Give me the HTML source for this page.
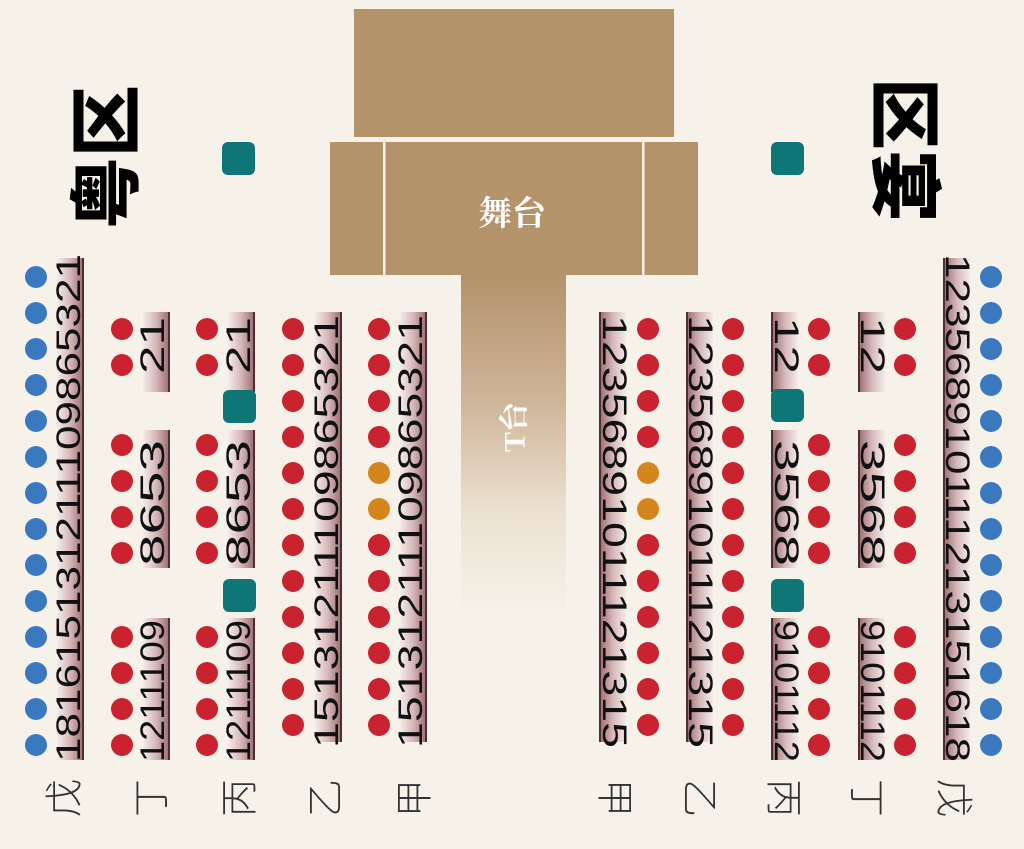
<!DOCTYPE html>
<html><head><meta charset="utf-8"><style>
html,body{margin:0;padding:0;background:#f6f2ea}
svg{display:block}
text{font-family:"Liberation Sans","Noto Sans CJK SC",sans-serif}
</style></head><body>
<svg xmlns="http://www.w3.org/2000/svg" width="1024" height="849" viewBox="0 0 1024 849">
<defs>
<linearGradient id="sl" x1="0" y1="0" x2="1" y2="0">
<stop offset="0" stop-color="#f4ecea"/><stop offset="0.5" stop-color="#d6b8b9"/><stop offset="1" stop-color="#9c6e72"/>
</linearGradient>
<linearGradient id="sr" x1="1" y1="0" x2="0" y2="0">
<stop offset="0" stop-color="#f4ecea"/><stop offset="0.5" stop-color="#d6b8b9"/><stop offset="1" stop-color="#9c6e72"/>
</linearGradient>
<linearGradient id="rw" x1="0" y1="0" x2="0" y2="1">
<stop offset="0" stop-color="#b4926a"/><stop offset="0.35" stop-color="#cdb397"/><stop offset="0.7" stop-color="#ece2d2"/><stop offset="1" stop-color="#f6f2ea"/>
</linearGradient>
</defs>
<rect width="1024" height="849" fill="#f6f2ea"/>
<!-- stage -->
<rect x="354" y="9" width="320" height="128" fill="#b4926a"/>
<rect x="330" y="142" width="368" height="133" fill="#b4926a"/>
<rect x="383" y="142" width="2.5" height="133" fill="#f6f2ea"/>
<rect x="642" y="142" width="2.5" height="133" fill="#f6f2ea"/>
<rect x="461" y="275" width="105" height="345" fill="url(#rw)"/>
<text x="512" y="225" text-anchor="middle" font-size="34" fill="#fff" font-weight="bold" style="font-family:'Noto Serif CJK SC','Noto Sans CJK SC',serif">舞台</text>
<text transform="translate(515,427) rotate(-90)" text-anchor="middle" dominant-baseline="central" font-size="30" fill="#fff" font-weight="bold" style="font-family:'Liberation Serif','Noto Serif CJK SC',serif">T台</text>
<!-- area labels -->
<text transform="translate(101,157) rotate(-90)" text-anchor="middle" dominant-baseline="central" font-size="72" font-weight="900" fill="#000" style="font-family:'Noto Sans CJK SC',sans-serif">粤区</text>
<text transform="translate(910,150) rotate(90)" text-anchor="middle" dominant-baseline="central" font-size="72" font-weight="900" fill="#000" style="font-family:'Noto Sans CJK SC',sans-serif">区宴</text>
<g id="content"></g>
</svg>
<script>
var g=document.getElementById('content'),NS='http://www.w3.org/2000/svg',h='';
function strip(x,y1,y2,left){ // x = line x
  if(left){h+='<rect x="'+(x-26)+'" y="'+y1+'" width="26" height="'+(y2-y1)+'" fill="url(#sl)"/><rect x="'+(x-1)+'" y="'+y1+'" width="2" height="'+(y2-y1)+'" fill="#4e3033"/>';}
  else{h+='<rect x="'+x+'" y="'+y1+'" width="26" height="'+(y2-y1)+'" fill="url(#sr)"/><rect x="'+(x-1)+'" y="'+y1+'" width="2" height="'+(y2-y1)+'" fill="#4e3033"/>';}
}
function txt(cx,y1,y2,s,left){
  var L=y2-y1;
  if(left)h+='<text transform="translate('+cx+','+y2+') rotate(-90)" dominant-baseline="central" font-size="34" fill="#111" textLength="'+L+'" lengthAdjust="spacingAndGlyphs">'+s+'</text>';
  else h+='<text transform="translate('+cx+','+y1+') rotate(90)" dominant-baseline="central" font-size="34" fill="#111" textLength="'+L+'" lengthAdjust="spacingAndGlyphs">'+s+'</text>';
}
function dot(x,y,c){h+='<circle cx="'+x+'" cy="'+y+'" r="11" fill="'+c+'"/>';}
function sq(x,y){h+='<rect x="'+x+'" y="'+y+'" width="33" height="33" rx="6" fill="#0e7677"/>';}
var B='#3a78c0',R='#c8232f',O='#d4861c';
function blue(dx,lx,tx,left){
  strip(lx,258,760,left);
  txt(tx,254,762,left?'181615131211109865321':'123568910111213151618',left);
  for(var i=0;i<14;i++)dot(dx,277+36*i,B);
}
function short(dx,lx,tx,left){
  strip(lx,312,392,left);strip(lx,430,568,left);strip(lx,618,760,left);
  txt(tx,317,374,left?'21':'12',left);
  txt(tx,440,566,left?'8653':'3568',left);
  txt(tx,620,762,left?'1211109':'9101112',left);
  [329,365,445,481,517,553,637,673,709,745].forEach(function(y){dot(dx,y,R);});
}
function longc(dx,lx,tx,left,orange){
  strip(lx,312,742,left);
  txt(tx,315,748,left?'15131211109865321':'12356891011121315',left);
  for(var i=0;i<12;i++){var y=329+36*i;dot(dx,y,(orange&&(i==4||i==5))?O:R);}
}
blue(36,83,69,true);
short(122,169,153,true);
short(207,254,239,true);
longc(293,341,327,true,false);
longc(379,426,411,true,true);
longc(648,600,614,false,true);
longc(733,687,700,false,false);
short(819,772,786,false);
short(905,859,872,false);
blue(991,944,957,false);
sq(222,142);sq(223,390);sq(223,579);
sq(771,142);sq(771,389);sq(771,579);
function lab(x,s,left){h+='<text transform="translate('+x+',798) rotate('+(left?-90:90)+')" text-anchor="middle" dominant-baseline="central" font-size="38" fill="#333" style="font-family:\'Noto Sans CJK SC\',sans-serif;font-weight:300">'+s+'</text>';}
lab(61,'戊',1);lab(148,'丁',1);lab(236,'丙',1);lab(322,'乙',1);lab(411,'甲',1);
lab(618,'甲',0);lab(703,'乙',0);lab(787,'丙',0);lab(870,'丁',0);lab(957,'戊',0);
g.innerHTML=h;
</script>
</body></html>
